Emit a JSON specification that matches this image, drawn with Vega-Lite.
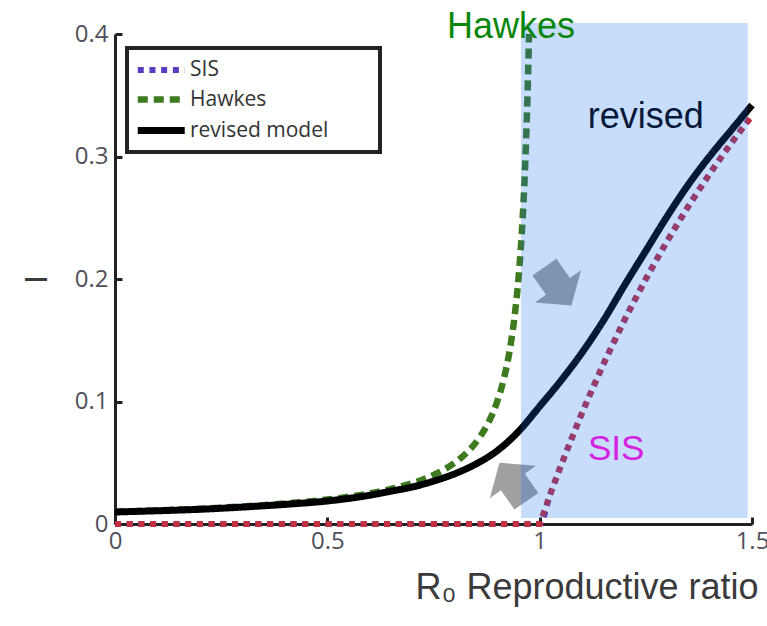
{
  "$schema": "https://vega.github.io/schema/vega-lite/v6.json",
  "width": 637,
  "height": 490,
  "autosize": {"type": "none"},
  "padding": {"left": 115, "top": 34, "right": 15, "bottom": 102},
  "background": "white",
  "config": {
    "view": {"stroke": null},
    "axis": {
      "grid": false,
      "domainColor": "#222222",
      "domainWidth": 3,
      "tickColor": "#222222",
      "tickWidth": 3,
      "tickSize": -7,
      "labelFont": "Open Sans",
      "labelFontSize": 24,
      "labelColor": "#50505a",
      "labelOverlap": false,
      "labelFlush": false,
      "titleFont": "Liberation Sans",
      "titleFontWeight": "normal",
      "titleColor": "#3a3a3a"
    },
    "legend": {
      "strokeColor": "#222222",
      "strokeWidth": 4,
      "padding": 7,
      "rowPadding": 2.5,
      "labelLimit": 300
    }
  },
  "datasets": {
    "curves": [
      {"series": "SIS", "R0": 0, "I": 0},
      {"series": "SIS", "R0": 1.0, "I": 0},
      {"series": "SIS", "R0": 1.025, "I": 0.0244},
      {"series": "SIS", "R0": 1.05, "I": 0.0476},
      {"series": "SIS", "R0": 1.1, "I": 0.0909},
      {"series": "SIS", "R0": 1.15, "I": 0.1304},
      {"series": "SIS", "R0": 1.2, "I": 0.1667},
      {"series": "SIS", "R0": 1.25, "I": 0.2},
      {"series": "SIS", "R0": 1.3, "I": 0.2308},
      {"series": "SIS", "R0": 1.35, "I": 0.2593},
      {"series": "SIS", "R0": 1.4, "I": 0.2857},
      {"series": "SIS", "R0": 1.45, "I": 0.3103},
      {"series": "SIS", "R0": 1.5, "I": 0.3333},
      {"series": "Hawkes", "R0": 0, "I": 0.01},
      {"series": "Hawkes", "R0": 0.1, "I": 0.0111},
      {"series": "Hawkes", "R0": 0.2, "I": 0.0125},
      {"series": "Hawkes", "R0": 0.3, "I": 0.0143},
      {"series": "Hawkes", "R0": 0.4, "I": 0.0167},
      {"series": "Hawkes", "R0": 0.5, "I": 0.02},
      {"series": "Hawkes", "R0": 0.55, "I": 0.0222},
      {"series": "Hawkes", "R0": 0.6, "I": 0.025},
      {"series": "Hawkes", "R0": 0.65, "I": 0.0286},
      {"series": "Hawkes", "R0": 0.7, "I": 0.0333},
      {"series": "Hawkes", "R0": 0.75, "I": 0.04},
      {"series": "Hawkes", "R0": 0.8, "I": 0.05},
      {"series": "Hawkes", "R0": 0.83, "I": 0.0588},
      {"series": "Hawkes", "R0": 0.86, "I": 0.0714},
      {"series": "Hawkes", "R0": 0.88, "I": 0.0833},
      {"series": "Hawkes", "R0": 0.9, "I": 0.1},
      {"series": "Hawkes", "R0": 0.915, "I": 0.1176},
      {"series": "Hawkes", "R0": 0.93, "I": 0.1429},
      {"series": "Hawkes", "R0": 0.94, "I": 0.1667},
      {"series": "Hawkes", "R0": 0.95, "I": 0.2},
      {"series": "Hawkes", "R0": 0.955, "I": 0.2222},
      {"series": "Hawkes", "R0": 0.96, "I": 0.25},
      {"series": "Hawkes", "R0": 0.965, "I": 0.2857},
      {"series": "Hawkes", "R0": 0.97, "I": 0.3333},
      {"series": "Hawkes", "R0": 0.975, "I": 0.4},
      {"series": "revised model", "R0": 0, "I": 0.0098},
      {"series": "revised model", "R0": 0.1, "I": 0.0108},
      {"series": "revised model", "R0": 0.2, "I": 0.012},
      {"series": "revised model", "R0": 0.3, "I": 0.0138},
      {"series": "revised model", "R0": 0.4, "I": 0.016},
      {"series": "revised model", "R0": 0.5, "I": 0.0188},
      {"series": "revised model", "R0": 0.6, "I": 0.0235},
      {"series": "revised model", "R0": 0.65, "I": 0.0268},
      {"series": "revised model", "R0": 0.7, "I": 0.0302},
      {"series": "revised model", "R0": 0.75, "I": 0.035},
      {"series": "revised model", "R0": 0.8, "I": 0.041},
      {"series": "revised model", "R0": 0.85, "I": 0.049},
      {"series": "revised model", "R0": 0.9, "I": 0.0598},
      {"series": "revised model", "R0": 0.95, "I": 0.0755},
      {"series": "revised model", "R0": 1.0, "I": 0.096},
      {"series": "revised model", "R0": 1.05, "I": 0.117},
      {"series": "revised model", "R0": 1.1, "I": 0.14},
      {"series": "revised model", "R0": 1.15, "I": 0.166},
      {"series": "revised model", "R0": 1.2, "I": 0.195},
      {"series": "revised model", "R0": 1.25, "I": 0.223},
      {"series": "revised model", "R0": 1.3, "I": 0.251},
      {"series": "revised model", "R0": 1.35, "I": 0.277},
      {"series": "revised model", "R0": 1.4, "I": 0.3},
      {"series": "revised model", "R0": 1.45, "I": 0.321},
      {"series": "revised model", "R0": 1.5, "I": 0.342}
    ],
    "arrows": [
      {"R0": 1.043, "I": 0.194, "angle": 55},
      {"R0": 0.937, "I": 0.0343, "angle": 235}
    ],
    "region": [
      {"R0": 0.956, "R0end": 1.49, "I": 0.005, "Itop": 0.409}
    ]
  },
  "encoding": {
    "x": {
      "field": "R0",
      "type": "quantitative",
      "scale": {"domain": [0, 1.5], "nice": false, "zero": false},
      "axis": {
        "values": [0, 0.5, 1, 1.5],
        "format": ".1~f",
        "labelPadding": 12,
        "title": "R₀ Reproductive ratio",
        "titleFontSize": 36,
        "titleAlign": "left",
        "titleBaseline": "alphabetic",
        "titleX": 300,
        "titleY": 74
      }
    },
    "y": {
      "field": "I",
      "type": "quantitative",
      "scale": {"domain": [0, 0.4], "nice": false},
      "axis": {
        "values": [0, 0.1, 0.2, 0.3, 0.4],
        "format": ".1~f",
        "labelPadding": 14,
        "title": "I",
        "titleFontSize": 32,
        "titleAlign": "center",
        "titleBaseline": "middle",
        "titleX": -79,
        "titleY": 245
      }
    }
  },
  "layer": [
    {
      "data": {"name": "curves"},
      "mark": {"type": "line", "interpolate": "monotone", "strokeCap": "butt"},
      "encoding": {
        "color": {
          "field": "series",
          "type": "nominal",
          "scale": {"domain": ["SIS", "Hawkes", "revised model"], "range": ["#5a3cc0", "#3e7a1e", "#000000"]},
          "legend": {
            "title": "model",
            "titleOrient": "right",
            "titleOpacity": 0,
            "titleFontSize": 15,
            "titlePadding": 0,
            "orient": "none",
            "legendX": 12,
            "legendY": 14,
            "symbolType": "M-1,0H3",
            "symbolSize": 552,
            "symbolStrokeWidth": 8,
            "labelFont": "Open Sans",
            "labelFontSize": 21,
            "labelColor": "#333333",
            "labelOffset": 25
          }
        },
        "strokeDash": {
          "field": "series",
          "type": "nominal",
          "scale": {"domain": ["SIS", "Hawkes", "revised model"], "range": [[6, 5.7], [10, 6], [1, 0]]},
          "legend": {
            "title": "model",
            "titleOrient": "right",
            "titleOpacity": 0,
            "titleFontSize": 15,
            "titlePadding": 0,
            "orient": "none",
            "legendX": 12,
            "legendY": 14,
            "symbolType": "M-1,0H3",
            "symbolSize": 552,
            "symbolStrokeWidth": 8,
            "labelFont": "Open Sans",
            "labelFontSize": 21,
            "labelColor": "#333333",
            "labelOffset": 25
          }
        },
        "strokeWidth": {
          "field": "series",
          "type": "nominal",
          "scale": {"domain": ["SIS", "Hawkes", "revised model"], "range": [6, 7, 8]},
          "legend": null
        }
      }
    },
    {
      "data": {"name": "curves"},
      "transform": [{"filter": "datum.series === 'SIS'"}],
      "mark": {"type": "line", "color": "#c3303f", "strokeWidth": 6, "strokeDash": [6, 5.7], "strokeCap": "butt"}
    },
    {
      "data": {"name": "arrows"},
      "mark": {
        "type": "point",
        "shape": "M-1,-0.62L0,-0.62L0,-1.2L1,0L0,1.2L0,0.62L-1,0.62Z",
        "filled": true,
        "fill": "#a0a0a0",
        "strokeWidth": 0,
        "opacity": 1,
        "size": 2209
      },
      "encoding": {
        "angle": {"field": "angle", "type": "quantitative", "scale": null}
      }
    },
    {
      "data": {"values": [{"label": "revised", "R0": 1.25, "I": 0.323}]},
      "mark": {"type": "text", "font": "Liberation Sans", "fontSize": 36, "color": "#000000", "align": "center", "baseline": "alphabetic"},
      "encoding": {"text": {"field": "label"}}
    },
    {
      "data": {"name": "region"},
      "mark": {"type": "rect", "color": "#1168f3", "opacity": 0.23},
      "encoding": {
        "x2": {"field": "R0end"},
        "y2": {"field": "Itop"}
      }
    },
    {
      "data": {"values": [{"label": "Hawkes", "R0": 0.9325, "I": 0.397}]},
      "mark": {"type": "text", "font": "Liberation Sans", "fontSize": 36, "color": "#0a870a", "align": "center", "baseline": "alphabetic"},
      "encoding": {"text": {"field": "label"}}
    },
    {
      "data": {"values": [{"label": "SIS", "R0": 1.18, "I": 0.052}]},
      "mark": {"type": "text", "font": "Liberation Sans", "fontSize": 35, "color": "#d622e0", "align": "center", "baseline": "alphabetic"},
      "encoding": {"text": {"field": "label"}}
    }
  ]
}
